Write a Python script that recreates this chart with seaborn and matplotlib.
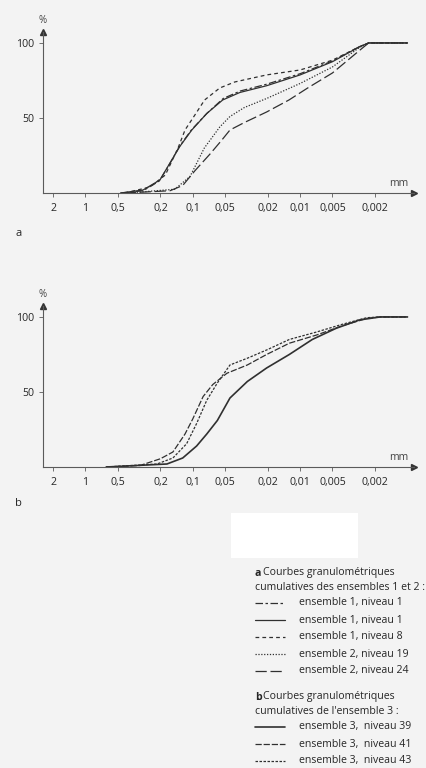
import matplotlib.pyplot as plt
import seaborn as sns
from matplotlib.lines import Line2D
from matplotlib.ticker import NullLocator

# x axis ticks (grain size, mm) and their labels
tick_mm = [2, 1, 0.5, 0.2, 0.1, 0.05, 0.02, 0.01, 0.005, 0.002]
tick_labels = ['2', '1', '0,5', '0,2', '0,1', '0,05', '0,02', '0,01', '0,005', '0,002']

# a: ensembles 1 and 2 (cumulative %)
e1n1dd_mm = [0.47, 0.29, 0.205, 0.165, 0.133, 0.103, 0.074, 0.052, 0.036, 0.0205, 0.010, 0.005, 0.0028, 0.0023, 0.001]
e1n1dd_pc = [0, 1.5, 8, 19, 31, 42, 53, 63, 68, 72.5, 79.5, 88, 97.5, 100, 100]

e1n1_mm = [0.47, 0.29, 0.202, 0.163, 0.132, 0.102, 0.074, 0.0526, 0.0364, 0.0205, 0.010, 0.005, 0.0028, 0.0023, 0.001]
e1n1_pc = [0, 2, 8.7, 20, 31, 42, 53, 62, 67, 71.5, 78.7, 87.5, 97.5, 100, 100]

e1n8_mm = [0.43, 0.25, 0.18, 0.137, 0.118, 0.0955, 0.0775, 0.056, 0.0406, 0.0205, 0.010, 0.005, 0.0028, 0.0023, 0.001]
e1n8_pc = [0, 4, 12, 30, 42, 52, 62, 70, 74, 78.7, 82, 88.5, 97.5, 100, 100]

e2n19_mm = [0.40, 0.147, 0.106, 0.078, 0.056, 0.045, 0.033, 0.0205, 0.010, 0.005, 0.0028, 0.0023, 0.001]
e2n19_pc = [0, 2.5, 11, 30, 44, 51, 57, 63, 73, 84, 97, 100, 100]

e2n24_mm = [0.43, 0.163, 0.124, 0.095, 0.069, 0.054, 0.045, 0.033, 0.0205, 0.0127, 0.0085, 0.005, 0.0028, 0.0023, 0.001]
e2n24_pc = [0, 1.5, 5, 15, 26, 35, 42, 47, 54, 62, 70, 80, 95, 100, 100]

# b: ensemble 3 (cumulative %)
e3n39_mm = [0.64, 0.174, 0.124, 0.092, 0.074, 0.059, 0.045, 0.031, 0.0205, 0.0126, 0.0077, 0.0046, 0.0028, 0.0018, 0.001]
e3n39_pc = [0, 2, 6, 14, 22, 31, 46, 57, 66, 75, 85, 92.5, 98, 100, 100]

e3n41_mm = [0.64, 0.31, 0.20, 0.153, 0.118, 0.10, 0.08, 0.065, 0.048, 0.031, 0.0205, 0.0126, 0.0070, 0.0041, 0.0024, 0.0018, 0.001]
e3n41_pc = [0, 1, 5.5, 10, 22, 32, 47, 55, 62.5, 68, 75, 82.5, 88, 94, 99, 100, 100]

e3n43_mm = [0.64, 0.215, 0.153, 0.114, 0.092, 0.074, 0.059, 0.045, 0.031, 0.0205, 0.0126, 0.0070, 0.0041, 0.0024, 0.0018, 0.001]
e3n43_pc = [0, 2, 6, 15.5, 29, 44.5, 56, 68, 72.5, 78, 85, 90, 95, 99.5, 100, 100]

series_a = [
    ('ensemble 1, niveau 1', e1n1dd_mm, e1n1dd_pc, (6, 2, 2, 2), 0.9),
    ('ensemble 1, niveau 1', e1n1_mm, e1n1_pc, None, 0.9),
    ('ensemble 1, niveau 8', e1n8_mm, e1n8_pc, (3, 2.5), 0.9),
    ('ensemble 2, niveau 19', e2n19_mm, e2n19_pc, (1, 1.3), 0.9),
    ('ensemble 2, niveau 24', e2n24_mm, e2n24_pc, (9, 3), 0.9),
]
series_b = [
    ('ensemble 3,  niveau 39', e3n39_mm, e3n39_pc, None, 1.2),
    ('ensemble 3,  niveau 41', e3n41_mm, e3n41_pc, (5, 1.5), 0.9),
    ('ensemble 3,  niveau 43', e3n43_mm, e3n43_pc, (2, 1.2), 0.9),
]

bg = '#f3f3f3'
ink = '#303030'
txt = '#262626'
axcol = '#5a5a5a'

sns.set_theme(style='ticks')
plt.rcParams['font.family'] = ['Open Sans', 'DejaVu Sans']
plt.rcParams['font.size'] = 7

W, H = 427, 768
fig = plt.figure(figsize=(W / 100, H / 100), dpi=100, facecolor=bg)


def px_box(left, top, right, bottom):
    return [left / W, 1 - bottom / H, (right - left) / W, (bottom - top) / H]


def draw_panel(ax, series):
    ax.set_facecolor(bg)
    for name, xs, ys, dash, lw in series:
        kw = dict(color=ink, linewidth=lw)
        if dash is not None:
            kw['dashes'] = dash
        sns.lineplot(x=xs, y=ys, ax=ax, estimator=None, sort=False, **kw)
    ax.set_xscale('log')
    ax.set_xlim(2.48, 0.00087)
    ax.set_ylim(0, 107.3)
    ax.xaxis.set_minor_locator(NullLocator())
    ax.set_xticks(tick_mm)
    ax.set_xticklabels(tick_labels)
    ax.set_yticks([50, 100])
    ax.set_yticklabels(['50', '100'])
    ax.tick_params(axis='both', length=3, width=0.6, color=axcol,
                   labelsize=7.6, labelcolor=txt, pad=3)
    ax.tick_params(axis='x', pad=4)
    sns.despine(ax=ax)
    for s in ['left', 'bottom']:
        ax.spines[s].set_color(axcol)
        ax.spines[s].set_linewidth(0.8)
    ax.set_xlabel('')
    ax.set_ylabel('')
    ax.plot(1, 0, '>', color='#333333', ms=4.5, transform=ax.transAxes, clip_on=False)
    ax.plot(0, 1, '^', color='#333333', ms=4.5, transform=ax.transAxes, clip_on=False)
    ax.text(0, 1.04, '%', transform=ax.transAxes, ha='center', va='bottom',
            fontsize=7, color='#444444')
    ax.text(0.985, 0.025, 'mm', transform=ax.transAxes, ha='right', va='bottom',
            fontsize=7.6, color='#444444')


ax_a = fig.add_axes(px_box(43, 32, 414, 193))
draw_panel(ax_a, series_a)
ax_b = fig.add_axes(px_box(43, 306, 414, 467))
draw_panel(ax_b, series_b)

fig.text(16 / W, 1 - 233 / H, 'a', fontsize=8, color=txt, va='center')
fig.text(15 / W, 1 - 503 / H, 'b', fontsize=8, color=txt, va='center')

# white patch
fig.patches.append(plt.Rectangle((231 / W, 1 - 558 / H), 127 / W, 45 / H,
                                 transform=fig.transFigure, facecolor='white',
                                 edgecolor='none'))


def legend_block(letter, lines, y_head, y_entries, series):
    fig.text(255 / W, 1 - y_head / H, letter, fontsize=7.6, fontweight='bold',
             color=txt, va='center')
    fig.text(263 / W, 1 - y_head / H, lines[0], fontsize=7.6, color=txt, va='center')
    fig.text(255 / W, 1 - (y_head + 14) / H, lines[1], fontsize=7.6, color=txt, va='center')
    for (name, xs, ys, dash, lw), y in zip(series, y_entries):
        ln = Line2D([255 / W, 285 / W], [1 - y / H, 1 - y / H], transform=fig.transFigure,
                    color=ink, linewidth=lw)
        if dash is not None:
            ln.set_dashes(dash)
        fig.lines.append(ln)
        fig.text(299 / W, 1 - y / H, name, fontsize=7.6, color=txt, va='center')


legend_block('a', ['Courbes granulométriques', 'cumulatives des ensembles 1 et 2 :'],
             573, [603, 620, 637, 654, 671], series_a)
legend_block('b', ['Courbes granulométriques', "cumulatives de l'ensemble 3 :"],
             697, [727, 744, 761], series_b)

fig.savefig('out.png', dpi=100, facecolor=bg)
